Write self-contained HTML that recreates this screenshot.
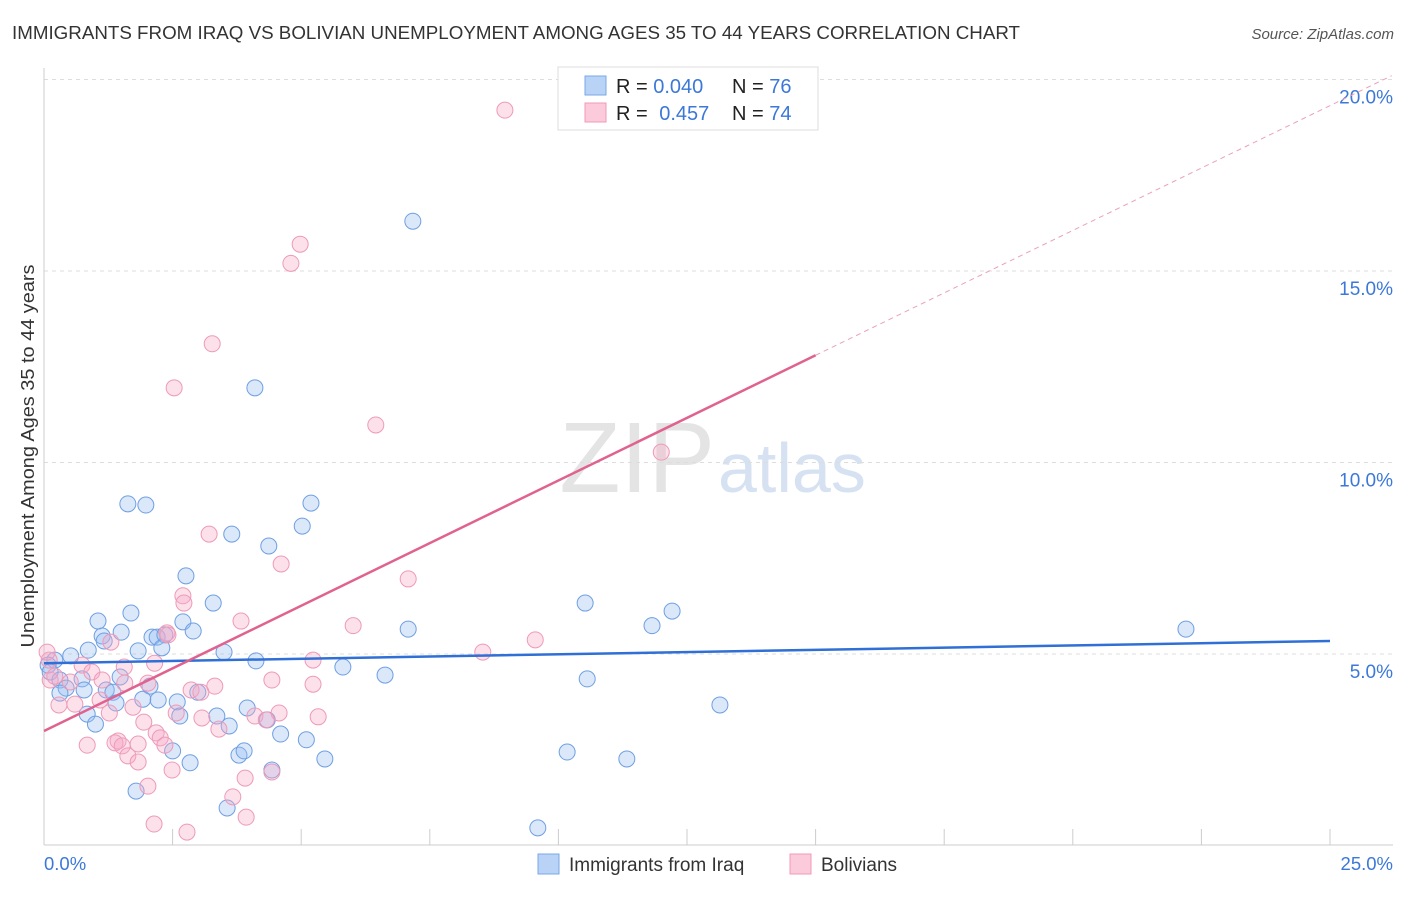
<!DOCTYPE html>
<html><head><meta charset="utf-8"><style>
body{margin:0;background:#fff;font-family:"Liberation Sans",sans-serif;}
svg text{font-family:"Liberation Sans",sans-serif;}
</style></head><body>
<svg id="chart" width="1406" height="892" xmlns="http://www.w3.org/2000/svg">
<text x="12" y="39" font-size="18.5" fill="#333" textLength="1008" lengthAdjust="spacingAndGlyphs">IMMIGRANTS FROM IRAQ VS BOLIVIAN UNEMPLOYMENT AMONG AGES 35 TO 44 YEARS CORRELATION CHART</text>
<text x="1394" y="39" font-size="15" fill="#555" text-anchor="end" font-style="italic">Source: ZipAtlas.com</text>
<text x="715" y="492" font-size="100" fill="#e4e4e4" text-anchor="end" font-family="Liberation Serif">ZIP</text>
<text x="718" y="492" font-size="70" fill="#d6e2f2">atlas</text>
<g id="grid"></g><g id="axes"></g><g id="pts"></g><g id="lines"></g>
<text x="34" y="456" font-size="18.5" fill="#333" text-anchor="middle" textLength="383" lengthAdjust="spacingAndGlyphs" transform="rotate(-90 34 456)">Unemployment Among Ages 35 to 44 years</text>
<text x="44" y="870" font-size="18.5" fill="#3b78d8">0.0%</text>
<text x="1393" y="870" font-size="18.5" fill="#3b78d8" text-anchor="end">25.0%</text>
<g>
<rect x="558" y="67" width="260" height="63" fill="#fff" stroke="#ddd"/>
<rect x="585" y="76" width="21" height="19" fill="#b8d3f5" stroke="#7aa7e6"/>
<rect x="585" y="103" width="21" height="19" fill="#fbcadb" stroke="#f09ab8"/>
<text x="616" y="93" font-size="20" fill="#222">R = <tspan fill="#3b78d8">0.040</tspan></text>
<text x="732" y="93" font-size="20" fill="#222">N = <tspan fill="#3b78d8">76</tspan></text>
<text x="616" y="120" font-size="20" fill="#222">R = <tspan fill="#3b78d8" dx="6">0.457</tspan></text>
<text x="732" y="120" font-size="20" fill="#222">N = <tspan fill="#3b78d8">74</tspan></text>
</g>
<g>
<rect x="538" y="854" width="21" height="20" fill="#b8d3f5" stroke="#7aa7e6"/>
<text x="569" y="871" font-size="19" fill="#333">Immigrants from Iraq</text>
<rect x="790" y="854" width="21" height="20" fill="#fbcadb" stroke="#f09ab8"/>
<text x="821" y="871" font-size="19" fill="#333">Bolivians</text>
</g>
</svg>
<script>
const yTicks=[5,10,15,20];
const xTickVals=[0,2.5,5,7.5,10,12.5,15,17.5,20,22.5,25];
const blueX=[7.17,4.10,1.63,1.98,5.19,5.02,3.65,4.37,2.76,3.29,1.69,1.05,2.70,1.50,1.13,2.10,2.20,2.35,2.90,1.17,2.29,1.83,0.86,0.52,3.50,0.21,4.12,5.81,7.08,10.52,12.21,11.82,22.2,6.63,10.56,13.14,10.17,11.33,9.60,0.08,0.12,0.31,0.74,0.43,1.21,1.34,2.06,0.31,0.78,1.40,1.92,2.22,2.59,2.99,0.84,1.0,2.64,3.36,3.6,3.95,4.34,4.6,5.1,2.5,2.84,3.79,3.89,4.43,5.46,1.79,3.56,1.48];
const blueY=[16.3,11.95,8.92,8.89,8.94,8.34,8.13,7.82,7.04,6.33,6.07,5.86,5.84,5.57,5.47,5.44,5.44,5.50,5.60,5.34,5.16,5.08,5.10,4.95,5.05,4.84,4.82,4.66,5.65,6.33,6.12,5.74,5.65,4.45,4.35,3.67,2.44,2.26,0.46,4.71,4.53,4.32,4.35,4.11,4.06,4.0,4.16,3.98,4.06,3.72,3.82,3.80,3.75,4.0,3.43,3.17,3.38,3.38,3.12,3.59,3.28,2.91,2.76,2.47,2.16,2.36,2.47,1.97,2.26,1.42,0.98,4.40];
const pinkX=[8.96,4.98,4.8,3.27,2.53,6.45,12.0,3.21,4.61,7.08,2.70,2.72,3.83,2.39,2.41,6.01,9.55,8.53,1.30,5.23,2.15,1.56,0.74,0.93,0.1,0.12,0.21,1.13,1.57,2.02,0.51,4.43,5.23,3.32,2.86,3.05,1.09,0.29,0.6,1.73,1.27,2.57,4.57,4.10,5.33,3.07,1.94,4.32,3.40,2.18,2.26,1.44,0.84,1.38,1.52,1.83,2.35,1.63,1.83,2.49,3.91,4.43,2.02,3.67,2.14,2.78,3.93,0.06];
const pinkY=[19.2,15.7,15.2,13.1,11.95,10.98,10.27,8.13,7.35,6.96,6.52,6.33,5.86,5.55,5.50,5.74,5.37,5.05,5.31,4.84,4.76,4.66,4.71,4.53,4.84,4.32,4.42,4.32,4.24,4.24,4.27,4.32,4.21,4.16,4.06,4.0,3.80,3.67,3.69,3.61,3.46,3.46,3.46,3.38,3.36,3.33,3.22,3.28,3.04,2.94,2.81,2.73,2.62,2.68,2.60,2.65,2.62,2.34,2.18,1.97,1.76,1.92,1.55,1.27,0.56,0.35,0.74,5.05];
const blueTrend=[4.76,5.34];
const pinkTrend=[2.99,12.8,20.1];
const X=v=>44+v*51.44, Y=v=>845.5-v*38.3;
const NS='http://www.w3.org/2000/svg';
function mk(t,p,a){const e=document.createElementNS(NS,t);for(const k in a)e.setAttribute(k,a[k]);document.getElementById(p).appendChild(e);return e;}
yTicks.forEach(t=>{
 const l=mk('line','grid',{x1:44,x2:1393,y1:Y(t),y2:Y(t),stroke:'#ddd','stroke-dasharray':'4,4'});
 
 
 const tx=mk('text','grid',{x:1393,y:Y(t)+24,'font-size':19,fill:'#3b78d8','text-anchor':'end'});
 tx.textContent=t.toFixed(1)+'%';
 
 
});
const ax=mk('line','axes',{x1:44,x2:44,y1:68,y2:845,stroke:'#ccc'});


const bx=mk('line','axes',{x1:44,x2:1393,y1:845,y2:845,stroke:'#ccc'});


xTickVals.forEach(t=>{
 const l=mk('line','axes',{x1:X(t),x2:X(t),y1:829,y2:845,stroke:'#ccc'});
 
 
});
blueX.forEach((v,i)=>{
 const c=mk('circle','pts',{cx:X(v),cy:Y(blueY[i]),r:8,fill:'rgba(150,190,240,0.35)',stroke:'#6f9fe2','stroke-width':1});
 
 
});
pinkX.forEach((v,i)=>{
 const c=mk('circle','pts',{cx:X(v),cy:Y(pinkY[i]),r:8,fill:'rgba(245,170,198,0.35)',stroke:'#ee9ab8','stroke-width':1});
 
 
});
const bl=mk('line','lines',{x1:X(0),y1:Y(blueTrend[0]),x2:X(25),y2:Y(blueTrend[1]),stroke:'#2f6fd6','stroke-width':2.5});


const pl=mk('line','lines',{x1:X(0),y1:Y(pinkTrend[0]),x2:X(15),y2:Y(pinkTrend[1]),stroke:'#e0628f','stroke-width':2.5});


const pd=mk('line','lines',{x1:X(15),y1:Y(pinkTrend[1]),x2:X(26.2),y2:Y(pinkTrend[2]),stroke:'#eaa0bb','stroke-width':1,'stroke-dasharray':'5,4'});


</script>
</body></html>
